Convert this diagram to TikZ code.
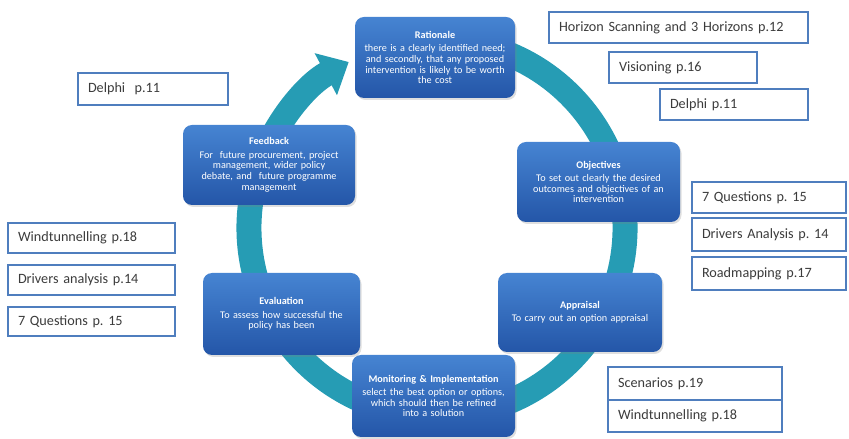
\documentclass[tikz,border=0pt]{standalone}
\usepackage{fontspec}
\setmainfont{Carlito}
\frenchspacing
\usetikzlibrary{arrows.meta,shadows}
\definecolor{ringteal}{RGB}{38,156,180}
\definecolor{boxtop}{RGB}{70,132,210}
\definecolor{boxbot}{RGB}{36,86,168}
\definecolor{refblue}{RGB}{79,126,190}
\definecolor{reftext}{RGB}{60,60,60}
\tikzset{
  stage/.style={rounded corners=9pt, top color=boxtop, bottom color=boxbot,
    draw=none, text=white, align=center, inner sep=3pt,
    font=\fontsize{10.2}{10.8}\selectfont,
    drop shadow={opacity=0.25, shadow xshift=1.5pt, shadow yshift=-2pt}},
  refbox/.style={draw=refblue, line width=2.6pt, fill=white, text=reftext,
    align=left, inner xsep=10pt, inner ysep=0pt, anchor=center,
    font=\fontsize{14.2}{16}\selectfont},
  cyclering/.style={draw=ringteal, line width=25pt}
}
\newcommand{\stagebox}[6]{%
  \node[stage, minimum width=#3pt, minimum height=#4pt, text width=#3pt-8pt] (#1) at #2
    {\textbf{#5}\\[2.5pt]#6};}
\newcommand{\refbox}[5]{%
  \node[refbox, minimum width=#3pt, minimum height=#4pt, text width=#3pt-20pt] (#1) at #2 {#5};}
\begin{document}
\begin{tikzpicture}[x=1pt,y=1pt]
\useasboundingbox (0,0) rectangle (849,439);

% the cycle ring with its arrow head pointing at the first stage
\coordinate (hub) at (437,211);
\draw[cyclering, -{Triangle[width=46pt,length=26pt]}]
  ([shift={(70:188)}]hub) arc[start angle=70, end angle=-242, radius=188];

% stages of the cycle
\stagebox{rat}{(435,381.5)}{160}{81}{Rationale}{there is a clearly identified need;\\ and secondly, that any proposed\\ intervention is likely to be worth\\ the cost}
\stagebox{obj}{(598.5,257)}{163}{80}{Objectives}{To set out clearly the desired\\ outcomes and objectives of an\\ intervention}
\stagebox{app}{(580,126.5)}{164}{79}{Appraisal}{To carry out an option appraisal}
\stagebox{mon}{(433.5,43)}{163}{82}{Monitoring \& Implementation}{select the best option or options,\\ which should then be refined\\ into a solution}
\stagebox{eva}{(281.5,125)}{157}{82}{Evaluation}{To assess how successful the\\ policy has been}
\stagebox{fee}{(269,274)}{172}{80}{Feedback}{For\ \ future procurement, project\\ management, wider policy\\ debate, and\ \ future programme\\ management}

% technique references
\refbox{hs}{(678.5,411.5)}{259}{31}{Horizon Scanning and 3 Horizons p.12}
\refbox{vis}{(683,371.5)}{148}{31}{Visioning p.16}
\refbox{delr}{(734,334.5)}{148}{31}{Delphi p.11}
\refbox{qr}{(769,241.5)}{154}{31}{7 Questions p. 15}
\refbox{drr}{(769,204.5)}{154}{33}{Drivers Analysis p. 14}
\refbox{road}{(769,165.5)}{154}{33}{Roadmapping p.17}
\refbox{dell}{(153,350)}{150}{32}{Delphi\ \ p.11}
\refbox{wl}{(91.5,201)}{167}{30}{Windtunnelling p.18}
\refbox{drl}{(91.5,159)}{167}{30}{Drivers analysis p.14}
\refbox{ql}{(91.5,117.5)}{167}{29}{7 Questions p. 15}
\refbox{scen}{(695,55.5)}{174}{33}{Scenarios p.19}
\refbox{wr}{(695,23)}{174}{32}{Windtunnelling p.18}
\end{tikzpicture}
\end{document}
